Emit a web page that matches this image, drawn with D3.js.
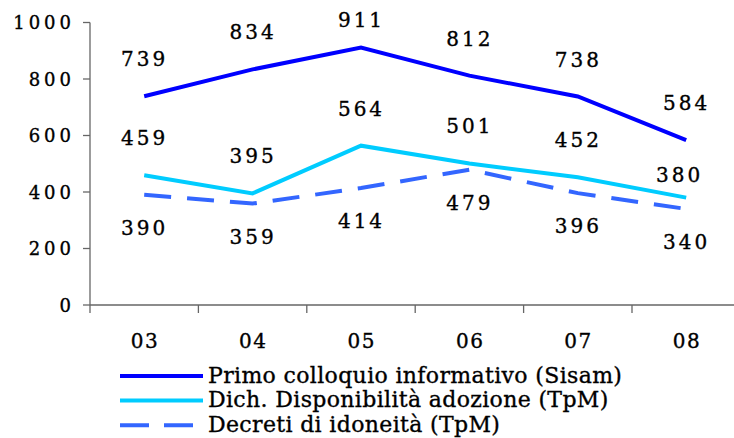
<!DOCTYPE html>
<html>
<head>
<meta charset="utf-8">
<script src="https://cdn.jsdelivr.net/npm/d3@7"></script>
<style>
  body { margin: 0; background: #fff; }
  svg { display: block; }
  text { font-family: 'DejaVu Serif', serif; fill: #000; stroke: #000; stroke-width: 0.35px; }
</style>
</head>
<body>
<svg id="chart" width="734" height="438"></svg>
<script>
var years = ['03', '04', '05', '06', '07', '08'];
var primoColloquio = [739, 834, 911, 812, 738, 584];
var dichDisponibilita = [459, 395, 564, 501, 452, 380];
var decretiIdoneita = [390, 359, 414, 479, 396, 340];
var yTicks = [0, 200, 400, 600, 800, 1000];
var seriesNames = [
  'Primo colloquio informativo (Sisam)',
  'Dich. Disponibilità adozione (TpM)',
  'Decreti di idoneità (TpM)'
];

var labelSpacing = 3;

var series = [
  { name: seriesNames[0], values: primoColloquio, color: '#0000ff', dash: null, below: false },
  { name: seriesNames[1], values: dichDisponibilita, color: '#00ccff', dash: null, below: false },
  { name: seriesNames[2], values: decretiIdoneita, color: '#3366ff', dash: '27,16', below: true }
];

var svg = d3.select('#chart');

var x = d3.scaleBand().domain(years).range([90, 740.4]).padding(0);
var y = d3.scaleLinear().domain([0, 1000]).range([305, 22.5]);
var cx = d => x(d) + x.bandwidth() / 2;

// axes
var axisColor = '#666';
svg.append('line')
  .attr('x1', 90).attr('x2', 90)
  .attr('y1', y(1000)).attr('y2', y(0))
  .attr('stroke', axisColor).attr('stroke-width', 1.3);
svg.append('line')
  .attr('x1', 90).attr('x2', 741)
  .attr('y1', y(0)).attr('y2', y(0))
  .attr('stroke', axisColor).attr('stroke-width', 1.3);

svg.selectAll('.ytick')
  .data(yTicks).enter().append('line')
  .attr('x1', 83).attr('x2', 90)
  .attr('y1', d => y(d)).attr('y2', d => y(d))
  .attr('stroke', axisColor).attr('stroke-width', 1.3);

svg.selectAll('.ylabel')
  .data(yTicks).enter().append('text')
  .attr('x', 71 + 4)
  .attr('y', d => y(d) + 6.5)
  .attr('text-anchor', 'end')
  .attr('font-size', 18)
  .attr('letter-spacing', 4)
  .text(d => d);

// band boundary ticks
svg.selectAll('.xtick')
  .data(years).enter().append('line')
  .attr('x1', d => x(d))
  .attr('x2', d => x(d))
  .attr('y1', y(0)).attr('y2', y(0) + 8)
  .attr('stroke', axisColor).attr('stroke-width', 1.3);

svg.selectAll('.xlabel')
  .data(years).enter().append('text')
  .attr('x', d => cx(d) + 0.75)
  .attr('y', 347.5)
  .attr('text-anchor', 'middle')
  .attr('font-size', 20)
  .attr('letter-spacing', 1.5)
  .text(d => d);

// lines
var line = d3.line()
  .x((d, i) => cx(years[i]))
  .y(d => y(d));

svg.selectAll('.series')
  .data(series).enter().append('path')
  .attr('d', d => line(d.values))
  .attr('fill', 'none')
  .attr('stroke', d => d.color)
  .attr('stroke-width', 4)
  .attr('stroke-dasharray', d => d.dash);

// data labels: above for solid lines, below for dashed
series.forEach((s, si) => {
  svg.selectAll('.lbl' + si)
    .data(s.values).enter().append('text')
    .attr('x', (d, i) => {
      var nudge = (si === 1 && i === 5) ? -7 : 0;
      return cx(years[i]) - 1 + labelSpacing / 2 + nudge;
    })
    .attr('y', (d, i) => {
      if (s.below) return y(d) + 40;
      if (si === 1 && i === 5) return y(d) - 16;
      return Math.max(y(d) - 30, 27);
    })
    .attr('text-anchor', 'middle')
    .attr('font-size', 20)
    .attr('letter-spacing', labelSpacing)
    .text(d => d);
});

// legend
var legend = svg.selectAll('.legend')
  .data(series).enter().append('g')
  .attr('transform', (d, i) => 'translate(0,' + (376 + i * 24.6) + ')');

legend.append('line')
  .attr('x1', 120).attr('x2', 203)
  .attr('stroke', d => d.color)
  .attr('stroke-width', 4)
  .attr('stroke-dasharray', d => d.dash ? '29,15' : null);

legend.append('text')
  .attr('x', 208)
  .attr('y', 6.5)
  .attr('font-size', 22)
  .attr('letter-spacing', 0.35)
  .text(d => d.name);
</script>
</body>
</html>
